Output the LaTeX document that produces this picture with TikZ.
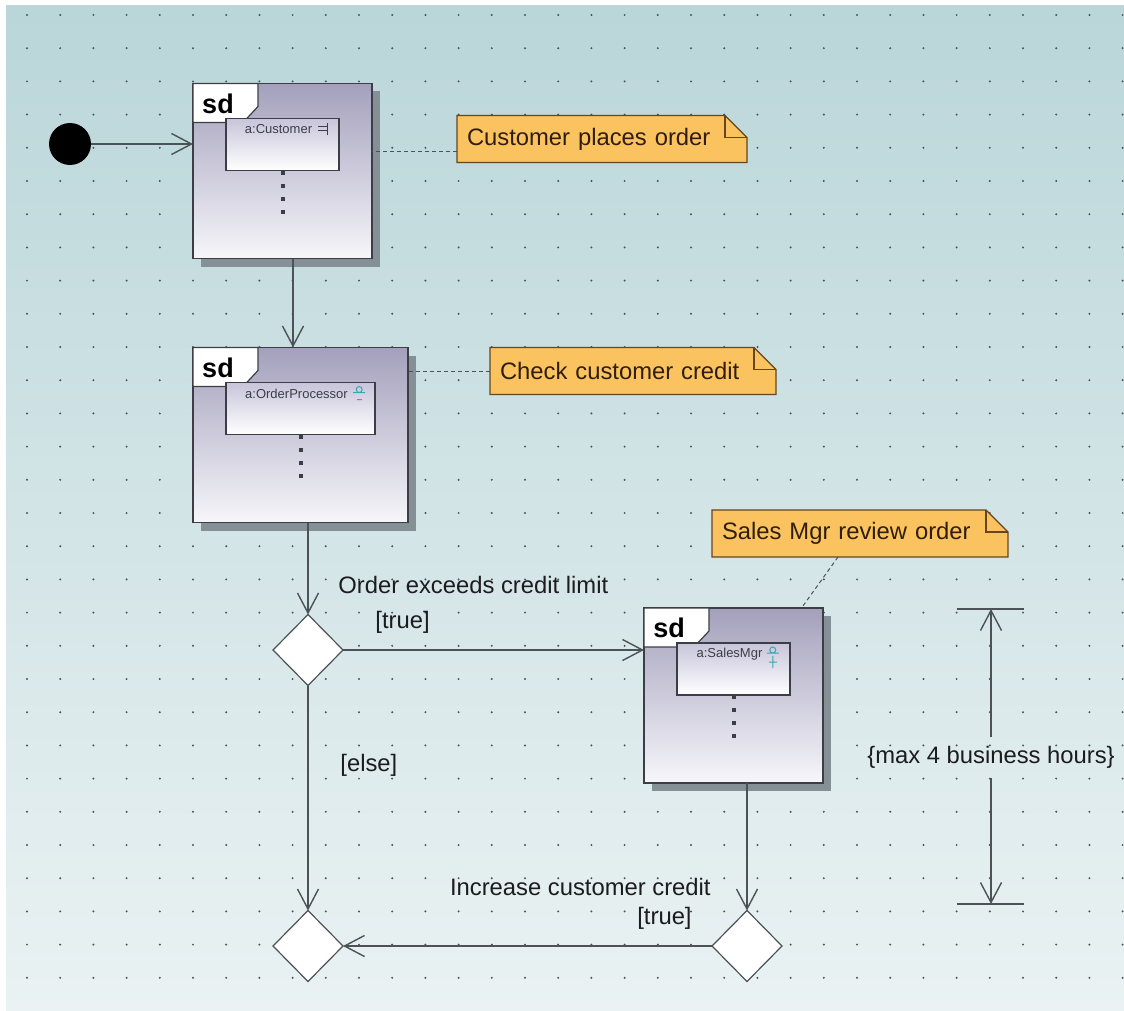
\documentclass[tikz,border=0pt]{standalone}
\usepackage{fontspec}
\setmainfont{Liberation Sans}
\usepackage{tikz}
\usetikzlibrary{positioning}
\usetikzlibrary{arrows.meta,shapes.geometric,calc}
\usepackage{xcolor}
\definecolor{bgtop}{RGB}{186,214,217}
\definecolor{bgbottom}{RGB}{234,242,243}
\definecolor{griddot}{RGB}{72,84,90}
\definecolor{framedraw}{RGB}{60,62,70}
\definecolor{frametop}{RGB}{164,160,188}
\definecolor{framebottom}{RGB}{246,246,250}
\definecolor{innertop}{RGB}{200,196,218}
\definecolor{shadowgray}{RGB}{132,144,150}
\definecolor{notefill}{RGB}{250,195,96}
\definecolor{notedraw}{RGB}{100,70,32}
\definecolor{notetext}{RGB}{48,30,12}
\definecolor{linegray}{RGB}{76,82,86}
\definecolor{labeltext}{RGB}{28,28,30}
\definecolor{iconteal}{RGB}{56,168,176}

\newcommand{\sdframe}[4]{%
  \pgfmathsetmacro{\sdhw}{#3/2}
  \fill[shadowgray] ($(#2)+(-\sdhw+8,-79.5)$) rectangle ($(#2)+(\sdhw+8,95.5)$);
  \node[sdbox, minimum width={#3*0.5pt}] (#1) at (#2) {};
  \draw[sdtag] (#1.north west) -- ++(65,0) -- ++(0,23) -- ++(-15,16) -- ++(-50,0) -- cycle;
  \node[sdfont] at ($(#1.north west)+(25,20)$) {sd};
  \node[lifebox, minimum width={(#3-66)*0.5pt}] (#1life) at ($(#1.north)+(0,61)$) {};
  \node[lifefont] (#1name) at ($(#1life.north)+(-4,11)$) {#4};
  \draw[lifeline] (#1life.south) -- ++(0,43);
}
\newcommand{\umlnote}[4]{%
  \pgfmathsetmacro{\notehw}{#3/2}
  \pgfmathsetmacro{\notetw}{(#3-20)*0.5}
  \draw[notebody] ($(#2)+(-\notehw,-23.5)$) -- ($(#2)+(\notehw-22,-23.5)$)
    -- ($(#2)+(\notehw,-1.5)$) -- ($(#2)+(\notehw,23.5)$) -- ($(#2)+(-\notehw,23.5)$) -- cycle;
  \draw[notebody, fill=none] ($(#2)+(\notehw-22,-23.5)$) |- ($(#2)+(\notehw,-1.5)$);
  \node[notebox, minimum width={#3*0.5pt}, text width=\notetw pt] (#1) at (#2) {#4};
}

\begin{document}
\begin{tikzpicture}[x=0.5pt, y=-0.5pt,
  sdbox/.style={rectangle, draw=framedraw, line width=0.6pt, inner sep=0pt, outer sep=0pt,
    minimum height=87.5pt, top color=frametop, bottom color=framebottom},
  sdtag/.style={draw=framedraw, fill=white, line width=0.6pt},
  sdfont/.style={font=\bfseries\fontsize{13.5}{14}\selectfont, inner sep=0pt},
  lifebox/.style={rectangle, draw=framedraw, line width=0.6pt, inner sep=0pt, outer sep=0pt,
    minimum height=26pt, top color=innertop, bottom color=white},
  lifefont/.style={font=\fontsize{6.5}{7}\selectfont, text=framedraw, inner sep=0pt},
  lifeline/.style={draw=framedraw, line width=2pt, dash pattern=on 2pt off 4.5pt},
  notebody/.style={draw=notedraw, fill=notefill, line width=0.6pt, line join=miter},
  notebox/.style={rectangle, inner sep=0pt, outer sep=0pt, minimum height=23.5pt, align=left,
    font=\fontsize{11.9}{14}\selectfont, text=notetext},
  flow/.style={draw=linegray, line width=0.7pt, -{Straight Barb[length=10pt,width=10.5pt]}},
  noteline/.style={draw=linegray, line width=0.5pt, dash pattern=on 2pt off 1.5pt},
  dimline/.style={draw=linegray, line width=0.7pt},
  decision/.style={diamond, aspect=1, draw=linegray, fill=white, line width=0.6pt,
    minimum width=35pt, minimum height=35.5pt, inner sep=0pt, outer sep=0pt},
  startdot/.style={circle, fill=black, minimum size=21pt, inner sep=0pt, outer sep=0pt},
  lbl/.style={font=\fontsize{11.9}{14}\selectfont, text=labeltext, inner sep=0pt}
  ]
  \useasboundingbox (0,0) rectangle (1124,1011);
  \fill[white] (0,0) rectangle (1124,1011);
  \shade[top color=bgtop, bottom color=bgbottom] (6,6) rectangle (1124,1011);
  \foreach \gx in {0,...,33}
    \foreach \gy in {0,...,29}
      \fill[griddot] (27+33.2*\gx,15+33.2*\gy) circle (0.55pt);

  \node[startdot] (start) at (70,144) {};

  \sdframe{sdCustomer}{282.5,171}{179}{a:Customer}
  \sdframe{sdOrder}{300.5,435}{215}{a:OrderProcessor}
  \sdframe{sdSales}{733.5,695.5}{179}{a:SalesMgr}

  \draw[framedraw, line width=0.5pt] ($(sdCustomername.east)+(6,-3)$) -- ++(9,0)
    ($(sdCustomername.east)+(6,1)$) -- ++(9,0)
    ($(sdCustomername.east)+(15,-6)$) -- ++(0,12);
  \draw[iconteal, line width=0.5pt] ($(sdOrdername.east)+(5,-1)$) -- ++(12,0)
    ($(sdOrdername.east)+(11,-4)$) circle (1.5pt)
    ($(sdOrdername.east)+(9,6)$) -- ++(5,0);
  \draw[iconteal, line width=0.5pt] ($(sdSalesname.east)+(4,-1)$) -- ++(12,0)
    ($(sdSalesname.east)+(10,-4)$) circle (1.5pt)
    ($(sdSalesname.east)+(10,2)$) -- ++(0,12)
    ($(sdSalesname.east)+(6,8)$) -- ++(8,0);

  \umlnote{noteCustomer}{602,139}{290}{Customer places order}
  \umlnote{noteCredit}{633,371}{286}{Check customer credit}
  \umlnote{noteSales}{860,533.5}{296}{Sales Mgr review order}

  \node[decision] (dec1) at (308,650) {};
  \node[decision] (dec2) at (308,946) {};
  \node[decision] (dec3) at (747,946) {};

  \draw[flow] (start.east) -- (start.east -| sdCustomer.west);
  \draw[flow] ([xshift=5.25pt]sdCustomer.south) -- ([xshift=5.25pt]sdCustomer.south |- sdOrder.north);
  \draw[flow] (sdOrder.south -| dec1.north) -- (dec1.north);
  \draw[flow] (dec1.east) -- (dec1.east -| sdSales.west);
  \draw[flow] (dec1.south) -- (dec2.north);
  \draw[flow] (sdSales.south -| dec3.north) -- (dec3.north);
  \draw[flow] (dec3.west) -- (dec2.east);

  \draw[noteline] ([yshift=-6pt]noteCustomer.west) -- ([yshift=-6pt]noteCustomer.west -| sdCustomer.east);
  \draw[noteline] (noteCredit.west) -- (noteCredit.west -| sdOrder.east);
  \draw[noteline] ([xshift=-11pt]noteSales.south) -- ([xshift=34pt]sdSales.north);

  \node[lbl, anchor=west] (lblExceeds) at (338,585) {Order exceeds credit limit};
  \node[lbl, anchor=west] (lblTrueA) at (375,622) {[true]};
  \node[lbl, anchor=west] (lblElse) at (340,765) {[else]};
  \node[lbl, anchor=east] (lblIncrease) at (711,887) {Increase customer credit};
  \node[lbl, anchor=east] (lblTrueB) at (692,918) {[true]};

  \coordinate (durTop) at (991,609);
  \coordinate (durBottom) at (991,904);
  \node[lbl, inner ysep=4.5pt] (durLabel) at (991,757) {\{max 4 business hours\}};
  \draw[dimline] ([xshift=-17pt]durTop) -- ([xshift=16.5pt]durTop);
  \draw[dimline] ([xshift=-17pt]durBottom) -- ([xshift=16.5pt]durBottom);
  \draw[flow] (durLabel.north) -- (durTop);
  \draw[flow] (durLabel.south) -- (durBottom);
\end{tikzpicture}
\end{document}
